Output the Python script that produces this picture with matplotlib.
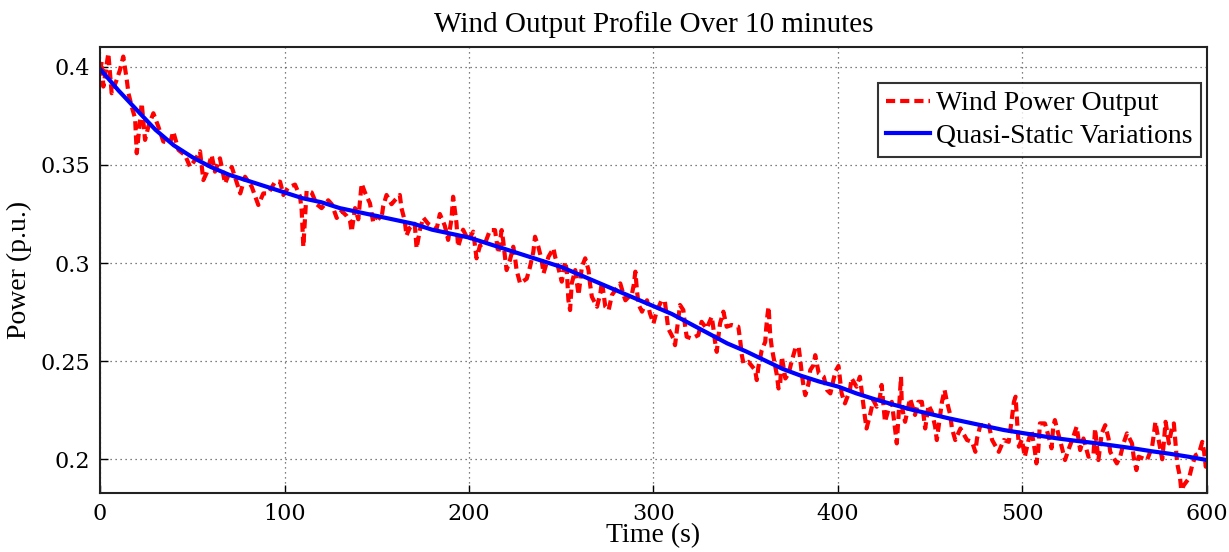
import numpy as np
import matplotlib as mpl
mpl.use('Agg')
import matplotlib.pyplot as plt

wind_t = [0, 0.9, 1.8, 4.5, 6.3, 9, 10.8, 12.6, 14.5, 15.4, 17.2, 19, 19.9, 22.6, 24.4, 26.2, 28.9,
          31.6, 34.3, 37.9, 39.7, 42.5, 46.1, 48.8, 51.5, 54.2, 56, 57.8, 60.5, 62.3, 65, 67.8,
          71.4, 76, 78.6, 82.2, 85.8, 88.5, 91.2, 94.9, 97.6, 99.4, 102, 105.7, 108.4, 109.3,
          110.2, 111.1, 112, 114.7, 117.4, 120.1, 123.7, 125.6, 128.3, 131, 133.7, 135.5, 136.4,
          138.2, 140, 141.8, 143.6, 146.3, 148.1, 149.9, 152.5, 153.5, 155.3, 158, 160.7, 162.5,
          163.4, 165.2, 166.1, 167.9, 170.6, 171.6, 173.3, 175.2, 177.9, 182.4, 184.2, 186.9,
          188.7, 190.5, 191.4, 192.3, 193.2, 194.1, 196.8, 199.6, 202.3, 203.2, 204.1, 206,
          208.7, 211.4, 214.1, 215.9, 217.7, 218.6, 219.5, 220.4, 222.2, 224, 224.9, 225.8,
          227.7, 231.3, 233.1, 234.9, 235.8, 237.6, 239.4, 240.4, 243.1, 245.8, 246.7, 248.5,
          250.3, 252.1, 253, 253.9, 254.8, 255.7, 257.6, 259.4, 261.2, 263, 264.8, 265.7, 266.6,
          269.4, 271.2, 272.1, 273.9, 275.7, 277.5, 282, 283.8, 284.8, 288.4, 289.3, 290.2,
          291.1, 292, 293.8, 296.5, 298.1, 300, 301.7, 304.4, 306.2, 307.1, 308, 310.8, 311.7,
          312.6, 313.5, 314.4, 316.2, 317.1, 318, 320.7, 324.3, 326.1, 328.8, 331.6, 332.5,
          333.4, 334.3, 335.2, 336.1, 337.9, 339.7, 342.4, 346, 347, 347.9, 348.8, 351.5, 355.1,
          356, 356.9, 358.7, 360.6, 361.1, 361.8, 362.4, 363.3, 364.2, 366.9, 367.8, 368.7,
          369.6, 371.5, 373.3, 375.1, 376.9, 378.7, 379.6, 380.5, 381.4, 382.3, 384.1, 385,
          386.8, 387.7, 389.6, 392.3, 394.1, 395.9, 398.6, 400.3, 402, 403.8, 406.5, 407.4,
          410.1, 411.9, 412.8, 414.6, 415.5, 417.4, 419.2, 421, 422.8, 423.7, 424.6, 425.5,
          427.3, 429.2, 431, 431.9, 432.8, 433.7, 434.2, 434.6, 435.5, 436.4, 439.1, 441.8,
          443.6, 445.5, 447.3, 449.1, 450.9, 452.7, 453.6, 455.4, 456.4, 457.8, 459.1, 460.9,
          461.8, 463.6, 466.4, 470, 472.7, 474.5, 475.4, 477.2, 481.8, 483.6, 487.2, 489.9,
          492.6, 494.4, 495.4, 496.3, 497.2, 498.1, 499.7, 501.3, 503.1, 504.9, 506.7, 507.6,
          508.6, 509.5, 512.2, 514, 515.8, 516.7, 517.6, 519.4, 521.3, 523.1, 524.9, 527.6,
          529.4, 531.3, 533.1, 535.8, 538.5, 539.4, 541.2, 543, 544.9, 546.7, 547.6, 551.2, 553,
          554.8, 556.7, 559.4, 560.3, 561.8, 563, 567.6, 570.3, 571.2, 572.1, 573, 575.8, 576.7,
          577.6, 578.5, 579.4, 581.2, 582.1, 583.9, 585.4, 586.1, 587.6, 590.3, 592.1, 593.9,
          595.7, 597.5, 598.5, 599.4, 600]
wind_p = [0.398, 0.4027, 0.390, 0.407, 0.3866, 0.3934, 0.3985, 0.4053, 0.3934, 0.3866, 0.3797,
          0.3738, 0.356, 0.3815, 0.3628, 0.3696, 0.3764, 0.3696, 0.362, 0.361, 0.367, 0.3577,
          0.355, 0.349, 0.3526, 0.357, 0.3423, 0.346, 0.355, 0.3466, 0.3534, 0.3406, 0.349,
          0.3355, 0.344, 0.339, 0.3296, 0.3355, 0.3355, 0.3415, 0.3415, 0.3347, 0.3385, 0.340,
          0.334, 0.327, 0.3083, 0.323, 0.337, 0.336, 0.330, 0.328, 0.332, 0.330, 0.323, 0.3265,
          0.324, 0.3215, 0.316, 0.328, 0.3223, 0.3405, 0.336, 0.3305, 0.3206, 0.324, 0.3223,
          0.329, 0.3347, 0.330, 0.333, 0.3347, 0.328, 0.3215, 0.314, 0.318, 0.320, 0.3075,
          0.3165, 0.3232, 0.320, 0.3172, 0.325, 0.319, 0.3118, 0.3223, 0.3338, 0.327, 0.3206,
          0.3083, 0.317, 0.3117, 0.316, 0.309, 0.3024, 0.309, 0.310, 0.3168, 0.3168, 0.305,
          0.3168, 0.311, 0.3032, 0.2964, 0.3015, 0.3083, 0.3032, 0.2964, 0.2896, 0.292, 0.2981,
          0.3058, 0.3134, 0.3083, 0.3015, 0.2947, 0.3032, 0.3075, 0.3032, 0.2973, 0.2905,
          0.3007, 0.2964, 0.281, 0.276, 0.2896, 0.2964, 0.2837, 0.2981, 0.3024, 0.2964, 0.2888,
          0.2828, 0.2777, 0.2845, 0.2905, 0.2777, 0.276, 0.2837, 0.2896, 0.2837, 0.281, 0.2845,
          0.2888, 0.2956, 0.2854, 0.2786, 0.2752, 0.281, 0.2743, 0.2692, 0.2752, 0.281, 0.2803,
          0.2735, 0.2666, 0.2615, 0.2581, 0.265, 0.2718, 0.2786, 0.2760, 0.2684, 0.2624, 0.2615,
          0.2632, 0.270, 0.2666, 0.2726, 0.2666, 0.2598, 0.2547, 0.2624, 0.2692, 0.2752, 0.2675,
          0.2684, 0.2675, 0.2607, 0.253, 0.2488, 0.2496, 0.2454, 0.2403, 0.2471, 0.2556, 0.2598,
          0.2666, 0.2735, 0.2777, 0.2632, 0.2564, 0.2428, 0.236, 0.2386, 0.2522, 0.2411, 0.2437,
          0.2505, 0.2564, 0.2573, 0.2505, 0.2428, 0.2369, 0.2326, 0.2386, 0.2454, 0.248, 0.253,
          0.2437, 0.242, 0.2352, 0.2335, 0.2446, 0.2475, 0.2335, 0.2284, 0.2352, 0.2412, 0.2369,
          0.242, 0.2352, 0.2216, 0.2156, 0.2225, 0.2301, 0.2267, 0.2318, 0.2378, 0.2284, 0.219,
          0.225, 0.2292, 0.2148, 0.2080, 0.2216, 0.2361, 0.242, 0.2284, 0.2225, 0.219, 0.2309,
          0.2225, 0.2292, 0.2292, 0.2156, 0.2275, 0.2241, 0.2165, 0.2097, 0.2225, 0.2292, 0.2352,
          0.2292, 0.2225, 0.2156, 0.2097, 0.2156, 0.2097, 0.2088, 0.2037, 0.2105, 0.2173, 0.2173,
          0.2097, 0.2037, 0.2097, 0.2088, 0.2216, 0.2292, 0.2318, 0.2182, 0.2063, 0.2100, 0.2012,
          0.2088, 0.2148, 0.2046, 0.1978, 0.2046, 0.2182, 0.2182, 0.2122, 0.2055, 0.2165, 0.2199,
          0.2131, 0.2063, 0.1995, 0.2046, 0.2114, 0.2165, 0.2046, 0.2105, 0.2012, 0.202, 0.2156,
          0.1995, 0.2131, 0.2173, 0.2105, 0.2037, 0.1978, 0.2012, 0.2080, 0.2131, 0.2080, 0.2012,
          0.1944, 0.2012, 0.1995, 0.2063, 0.2122, 0.219, 0.214, 0.1999, 0.2088, 0.219, 0.2139,
          0.2080, 0.2165, 0.2182, 0.1978, 0.1910, 0.1842, 0.1868, 0.1902, 0.1970, 0.2020, 0.2029,
          0.2088, 0.2037, 0.1961, 0.1985]

# quasi-static (slow) component
qs_t = np.arange(0, 601, 10)
qs_p = [0.399, 0.388, 0.378, 0.368, 0.360, 0.354, 0.349, 0.345, 0.342, 0.339, 0.336, 0.333,
        0.331, 0.328, 0.326, 0.324, 0.322, 0.320, 0.317, 0.315, 0.313, 0.310, 0.307, 0.304,
        0.301, 0.298, 0.294, 0.290, 0.286, 0.282, 0.278, 0.274, 0.269, 0.264, 0.259, 0.255,
        0.2505, 0.246, 0.2425, 0.2395, 0.237, 0.2335, 0.2305, 0.2278, 0.2252, 0.223, 0.2208,
        0.2188, 0.2168, 0.2148, 0.2133, 0.2118, 0.2104, 0.2092, 0.2081, 0.2068, 0.2055, 0.2040,
        0.2027, 0.2012, 0.1995]

serif = ['DejaVu Serif']
cond = ['Liberation Serif']

fig = plt.figure(figsize=(12.29, 5.52), dpi=100)
ax = fig.add_axes([0.0814, 0.1069, 0.9006, 0.808])

ax.plot(wind_t, wind_p, color='red', linestyle='--', linewidth=3, dashes=(2.2, 1.2),
        label='Wind Power Output')
ax.plot(qs_t, qs_p, color='blue', linewidth=3, label='Quasi-Static Variations')

ax.set_xlim(0, 600)
ax.set_ylim(0.1827, 0.4102)
ax.set_xticks([0, 100, 200, 300, 400, 500, 600])
ax.set_yticks([0.2, 0.25, 0.3, 0.35, 0.4])
ax.set_yticklabels(['0.2', '0.25', '0.3', '0.35', '0.4'])
ax.grid(True, color='#555555', linestyle=(0, (1, 3)), linewidth=0.9)
ax.tick_params(direction='in', length=6, width=1, labelsize=16, pad=7)
for lab in ax.get_xticklabels() + ax.get_yticklabels():
    lab.set_family(serif)
for s in ax.spines.values():
    s.set_linewidth(1.5)
    s.set_color('#222222')

ax.set_title('Wind Output Profile Over 10 minutes', fontsize=21, family=cond, pad=11)
ax.set_xlabel('Time (s)', fontsize=20, family=cond, labelpad=-1)
ax.set_ylabel('Power (p.u.)', fontsize=20, family=cond, labelpad=6)

leg = ax.legend(loc='upper right', bbox_to_anchor=(0.9945, 0.92),
                prop={'family': cond, 'size': 20}, frameon=True, fancybox=False,
                handlelength=1.6, handletextpad=0.2, borderpad=0.3, labelspacing=0.25,
                borderaxespad=0)
leg.get_frame().set_edgecolor('black')
leg.get_frame().set_linewidth(1.5)

fig.savefig('out.png', dpi=100)
